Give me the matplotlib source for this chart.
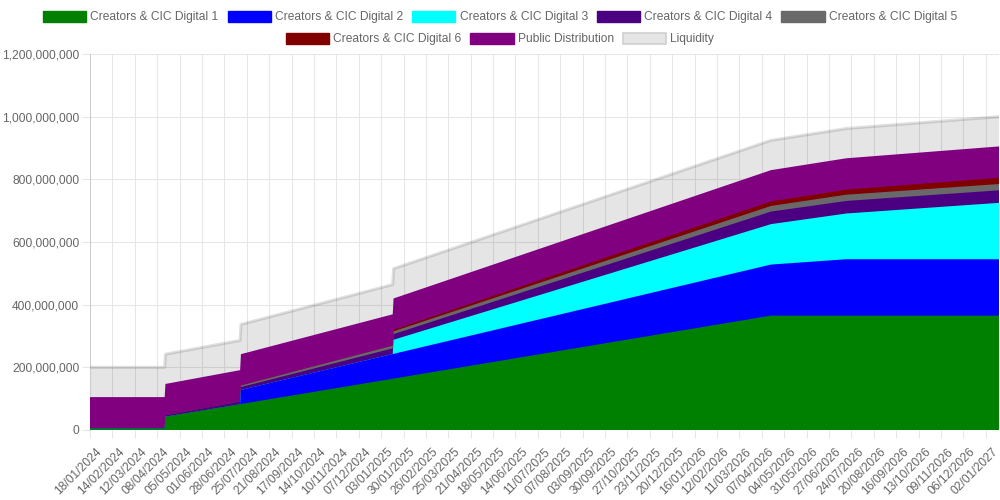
import matplotlib
matplotlib.use("Agg")
import matplotlib.pyplot as plt
import matplotlib.ticker as mticker
from matplotlib.patches import Patch
from matplotlib.transforms import ScaledTranslation
import numpy as np
import pandas as pd

plt.rcParams['font.family'] = ['Liberation Sans', 'DejaVu Sans']

# ---------------- data (millions of tokens) ----------------
series_names = ["Creators & CIC Digital 1", "Creators & CIC Digital 2", "Creators & CIC Digital 3",
                "Creators & CIC Digital 4", "Creators & CIC Digital 5", "Creators & CIC Digital 6",
                "Public Distribution", "Liquidity"]
series_colors = ["#008000", "#0000ff", "#00ffff", "#4b0082", "#696969", "#800000", "#800080", "#e5e5e5"]

key_dates = ["18/01/2024", "17/04/2024", "18/04/2024", "17/07/2024", "18/07/2024",
             "17/01/2025", "18/01/2025", "18/04/2026", "18/07/2026", "18/01/2027"]

creators_1 = [5, 5, 42.5, 82, 83, 163.5, 164, 365, 365, 365]
creators_2 = [0, 0, 0, 0, 45, 79, 79, 163, 180, 180]
creators_3 = [0, 0, 0, 0, 0, 0, 45, 129, 146, 180]
creators_4 = [0, 0, 4.5, 9, 9, 18, 18, 40, 40, 40]
creators_5 = [0, 0, 0, 0, 5, 8.7, 8.8, 18, 20, 20]
creators_6 = [0, 0, 0, 0, 0, 0, 5, 14.3, 16.2, 20]
public_distribution = [100, 100, 100, 100, 100, 100, 100, 100, 100, 100]
liquidity = [95, 95, 95, 95, 95, 95, 95, 95, 95, 95]

tick_labels = ["18/01/2024", "14/02/2024", "12/03/2024", "08/04/2024", "05/05/2024", "01/06/2024",
               "28/06/2024", "25/07/2024", "21/08/2024", "17/09/2024", "14/10/2024", "10/11/2024",
               "07/12/2024", "03/01/2025", "30/01/2025", "26/02/2025", "25/03/2025", "21/04/2025",
               "18/05/2025", "14/06/2025", "11/07/2025", "07/08/2025", "03/09/2025", "30/09/2025",
               "27/10/2025", "23/11/2025", "20/12/2025", "16/01/2026", "12/02/2026", "11/03/2026",
               "07/04/2026", "04/05/2026", "31/05/2026", "27/06/2026", "24/07/2026", "20/08/2026",
               "16/09/2026", "13/10/2026", "09/11/2026", "06/12/2026", "02/01/2027"]
y_ticks = [0, 200e6, 400e6, 600e6, 800e6, 1000e6, 1200e6]

# ---------------- positions ----------------
start = pd.to_datetime(key_dates[0], format="%d/%m/%Y")
def day_of(s):
    return (pd.to_datetime(s, format="%d/%m/%Y") - start).days

x = np.array([day_of(d) for d in key_dates])
x_end = day_of(key_dates[-1])
tick_pos = [day_of(d) for d in tick_labels]

layers = [creators_1, creators_2, creators_3, creators_4, creators_5, creators_6,
          public_distribution, liquidity]
cum = np.cumsum(np.array(layers, dtype=float) * 1e6, axis=0)

fig = plt.figure(figsize=(10, 5), dpi=100)
ax = fig.add_axes([0.090, 0.14, 0.909, 0.752])

grid_c = "#e6e6e6"
# draw from the top of the stack down, each from zero (avoids seams)
for i in range(len(layers) - 1, -1, -1):
    if series_names[i] == "Liquidity":
        ax.fill_between(x, 0, cum[i], facecolor=(0, 0, 0, 0.1), linewidth=0, zorder=2)
        ax.plot(x, cum[i], color=(0, 0, 0, 0.12), lw=2.2, zorder=3, solid_joinstyle='round')
    else:
        ax.fill_between(x, 0, cum[i], facecolor=series_colors[i], linewidth=0, zorder=4 + (len(layers) - i))

ax.set_xlim(0, x_end)
ax.set_ylim(0, 1.2e9)
ax.set_yticks(y_ticks)
ax.yaxis.set_major_formatter(mticker.FuncFormatter(lambda v, p: f"{v:,.0f}"))
ax.set_xticks(tick_pos)
ax.set_xticklabels([])

# rotated date labels, anchored at their upper-right end just below each tick
lab_trans = ax.get_xaxis_transform() + ScaledTranslation(6 / 100, -16 / 100, fig.dpi_scale_trans)
for p, t in zip(tick_pos, tick_labels):
    ax.text(p, 0, t, transform=lab_trans, rotation=45, rotation_mode='anchor',
            ha='right', va='top', fontsize=8.64, color='#666666', clip_on=False)

ax.set_axisbelow(True)
ax.tick_params(axis='both', color=grid_c, labelcolor='#666666', labelsize=8.64,
               length=5.8, width=0.75, direction='out',
               grid_color=grid_c, grid_linewidth=0.75, grid_alpha=1.0)
ax.grid(True)
ax.tick_params(axis='y', pad=2)
for s in ['top', 'right', 'bottom']:
    ax.spines[s].set_visible(False)
ax.spines['left'].set_color("#cccccc")
ax.spines['left'].set_linewidth(0.75)

# ---------------- legend (two centered rows) ----------------
def handle(i):
    if series_names[i] == "Liquidity":
        return Patch(facecolor=series_colors[i], edgecolor="#d0d0d0", lw=1.2)
    return Patch(facecolor=series_colors[i], edgecolor=series_colors[i], lw=1)

leg_kw = dict(loc='center', frameon=False, fontsize=8.64, handlelength=3.6, handleheight=1.1,
              handletextpad=0.35, columnspacing=0.75, borderpad=0, labelcolor='#666666',
              borderaxespad=0)
fig.legend([handle(i) for i in range(5)], series_names[:5], ncol=5,
           bbox_to_anchor=(0.5, 0.966), **leg_kw)
fig.legend([handle(i) for i in range(5, 8)], series_names[5:], ncol=3,
           bbox_to_anchor=(0.5, 0.922), **leg_kw)

fig.savefig("out.png", dpi=100)
